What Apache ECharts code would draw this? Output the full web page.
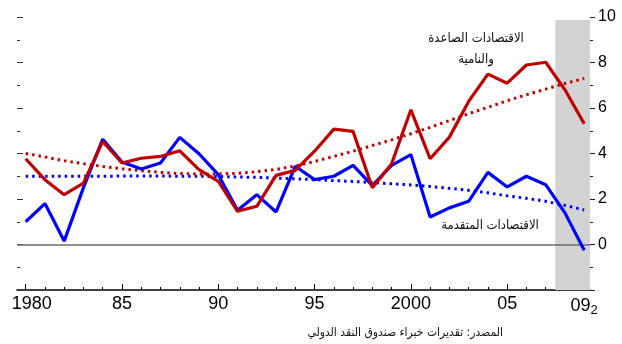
<!DOCTYPE html>
<html>
<head>
<meta charset="utf-8">
<script src="https://cdn.jsdelivr.net/npm/echarts@6/dist/echarts.min.js"></script>
<style>
html,body{margin:0;padding:0;background:#fff;}
#chart{width:622px;height:344px;}
</style>
</head>
<body>
<div id="chart"></div>
<script>
var years = [1980,1981,1982,1983,1984,1985,1986,1987,1988,1989,1990,1991,1992,1993,1994,1995,1996,1997,1998,1999,2000,2001,2002,2003,2004,2005,2006,2007,2008,2009];
var advanced = [1.0,1.8,0.15,2.5,4.63,3.63,3.32,3.58,4.71,3.99,3.07,1.51,2.19,1.43,3.44,2.85,3.0,3.48,2.59,3.48,3.95,1.21,1.61,1.9,3.17,2.53,3.0,2.63,1.39,-0.25];
var emerging = [3.77,2.85,2.19,2.7,4.53,3.58,3.79,3.87,4.12,3.29,2.78,1.46,1.68,3.04,3.26,4.1,5.07,4.97,2.49,3.55,5.92,3.77,4.72,6.29,7.49,7.09,7.89,8.01,6.8,5.31];
var advancedTrend = [3.0,3.0,3.0,3.0,3.0,3.01,3.01,3.01,3.0,3.0,2.99,2.97,2.95,2.92,2.89,2.85,2.81,2.77,2.72,2.67,2.62,2.55,2.47,2.38,2.27,2.14,2.03,1.9,1.72,1.52];
var emergingTrend = [4.0,3.85,3.68,3.55,3.43,3.33,3.24,3.17,3.12,3.1,3.1,3.13,3.2,3.3,3.45,3.65,3.87,4.1,4.35,4.6,4.87,5.15,5.45,5.75,6.03,6.32,6.58,6.83,7.08,7.3];
var majorTickYears = [1980,1985,1990,1995,2000,2005];
var labelYears = [1980,1985,1990,1995,2000,2005,2009];
var labelTexts = ['1980','85','90','95','2000','05','09'];
var shadeStart = 2007.5;
var labelEmerging = 'الاقتصادات الصاعدة\nوالنامية';
var labelAdvanced = 'الاقتصادات المتقدمة';
var sourceText = 'المصدر: تقديرات خبراء صندوق النقد الدولي';

function pairs(vals){ return years.map(function(y,i){ return [y, vals[i]]; }); }

var FONT = 'Liberation Sans, Arial, DejaVu Sans, sans-serif';
var AFONT = 'DejaVu Sans Condensed, DejaVu Sans, sans-serif';
var XMIN = 1979.55, XMAX = 2009.3;
var chart = echarts.init(document.getElementById('chart'), null, {renderer:'canvas'});
var baseX = {type:'value', min:XMIN, max:XMAX, position:'bottom', splitLine:{show:false}};
var baseY = {type:'value', min:-2, max:10, splitLine:{show:false}, axisLine:{show:false}};
chart.setOption({
  animation:false,
  backgroundColor:'#fff',
  grid:{left:17, right:32, top:17, bottom:54, containLabel:false},
  xAxis:[
    Object.assign({}, baseX, {
      axisLine:{show:true, onZero:false, lineStyle:{color:'#000', width:1.5}},
      axisTick:{show:true, inside:true, length:3, customValues:years, lineStyle:{color:'#000', width:1}},
      axisLabel:{show:false}
    }),
    Object.assign({}, baseX, {
      axisLine:{show:false, onZero:false},
      axisTick:{show:true, inside:true, length:6, customValues:majorTickYears, lineStyle:{color:'#000', width:1}},
      axisLabel:{show:true, customValues:labelYears, margin:5, color:'#000', fontSize:18, fontFamily:FONT,
        formatter:function(v){
          var i = labelYears.indexOf(Math.round(v));
          var t = i >= 0 ? labelTexts[i] : '';
          if (i === 0) return '{f|' + t + '}';
          if (i === labelYears.length - 1) return t + '{s|2}';
          return t;
        },
        rich:{
          f:{fontSize:18, fontFamily:FONT, color:'#000', padding:[0,0,0,12]},
          s:{fontSize:13, fontFamily:FONT, color:'#000', padding:[9,0,0,0]}
        }
      }
    })
  ],
  yAxis:[
    Object.assign({}, baseY, {position:'right', interval:1,
      axisTick:{show:true, length:3, lineStyle:{color:'#222'}},
      axisLabel:{show:true, margin:8, color:'#000', fontSize:16, fontFamily:FONT,
        formatter:function(v){ return (v % 2 === 0 && v >= 0) ? String(v) : ''; }}
    }),
    Object.assign({}, baseY, {position:'right', interval:2,
      axisTick:{show:true, length:5, lineStyle:{color:'#222'}}, axisLabel:{show:false}}),
    Object.assign({}, baseY, {position:'left', interval:1,
      axisTick:{show:true, inside:true, length:3, lineStyle:{color:'#333'}}, axisLabel:{show:false}}),
    Object.assign({}, baseY, {position:'left', interval:2,
      axisTick:{show:true, inside:true, length:6, lineStyle:{color:'#333'}}, axisLabel:{show:false}})
  ],
  series:[
    {type:'line', name:'advTrend', data:pairs(advancedTrend), showSymbol:false, symbol:'none',
      lineStyle:{color:'#0000ff', width:3, type:[2.5,4]}, z:3,
      markArea:{silent:true, itemStyle:{color:'#d3d3d3'}, data:[[{xAxis:shadeStart, yAxis:9.87},{xAxis:XMAX, yAxis:-2}]]},
      markLine:{silent:true, symbol:'none', z:1, label:{show:false}, lineStyle:{color:'#6a6a6a', width:1.5, type:'solid'}, data:[{yAxis:0}]}
    },
    {type:'line', name:'emTrend', data:pairs(emergingTrend), showSymbol:false, symbol:'none',
      lineStyle:{color:'#c00000', width:3, type:[2.5,4]}, z:3},
    {type:'line', name:'advanced', data:pairs(advanced), showSymbol:false, symbol:'none',
      lineStyle:{color:'#0000ff', width:3.2}, z:4},
    {type:'line', name:'emerging', data:pairs(emerging), showSymbol:false, symbol:'none',
      lineStyle:{color:'#c00000', width:3.2}, z:5}
  ],
  graphic:[
    {type:'text', x:476, y:28, style:{text:labelEmerging, fill:'#111', font:'13px ' + AFONT, textAlign:'center', textVerticalAlign:'top', lineHeight:21}},
    {type:'text', x:490, y:226, style:{text:labelAdvanced, fill:'#111', font:'13px ' + AFONT, textAlign:'center', textVerticalAlign:'middle'}},
    {type:'text', x:503, y:333, style:{text:sourceText, fill:'#111', font:'12px ' + AFONT, textAlign:'right', textVerticalAlign:'middle'}}
  ]
});
</script>
</body>
</html>
